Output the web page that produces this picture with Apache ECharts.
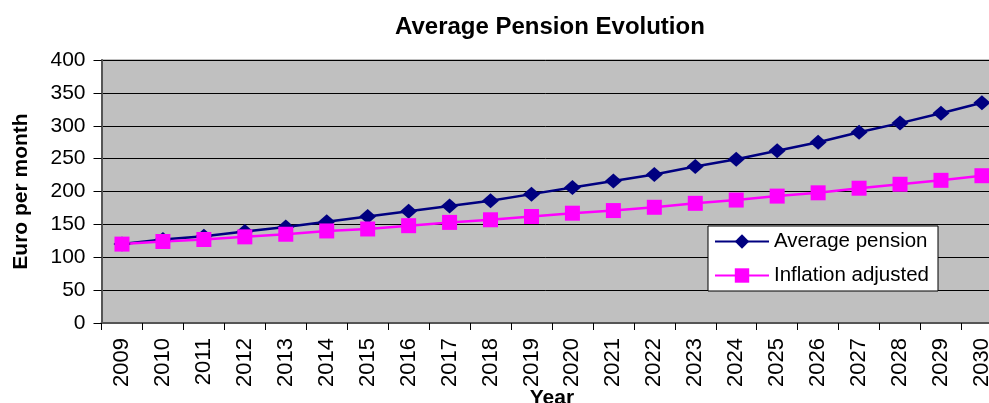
<!DOCTYPE html>
<html>
<head>
<meta charset="utf-8">
<script src="https://cdn.jsdelivr.net/npm/echarts@6/dist/echarts.min.js"></script>
<style>
  html, body { margin: 0; padding: 0; background: #fff; }
  #chart { width: 989px; height: 403px; }
</style>
</head>
<body>
<div id="chart"></div>
<script>
// Years on the x axis
const years = ['2009', '2010', '2011', '2012', '2013', '2014', '2015', '2016', '2017', '2018', '2019',
  '2020', '2021', '2022', '2023', '2024', '2025', '2026', '2027', '2028', '2029', '2030'];

// Values (Euro per month)
const averagePension = [120, 127, 132, 139, 146, 154, 162, 170, 178, 186, 196,
  206, 216, 226, 238, 249, 262, 275, 290, 304, 319, 335];
const inflationAdjusted = [120, 124, 127, 131, 135, 140, 143, 148, 153, 157, 162,
  167, 171, 176, 182, 187, 193, 198, 205, 211, 217, 224];

const font = '"Liberation Sans", Arial, sans-serif';

const myChart = echarts.init(document.getElementById('chart'));

let option = {
  backgroundColor: '#fff',
  animation: false,
  title: {
    text: 'Average Pension Evolution',
    left: 390,
    top: 10,
    textStyle: { fontFamily: font, fontSize: 24, fontWeight: 'bold', color: '#000' }
  },
  grid: {
    left: 101.5,
    top: 60,
    bottom: 80,
    right: -13.4,
    outerBoundsMode: 'none', // plot runs past the right edge, like the original
    containLabel: false,
    show: true,
    backgroundColor: '#c0c0c0',
    borderColor: '#808080',
    borderWidth: 1
  },
  legend: {
    orient: 'vertical',
    left: 708,
    top: 226,
    padding: [5, 9, 5, 6],
    itemGap: 13,
    itemWidth: 54,
    itemHeight: 18,
    backgroundColor: '#fff',
    borderColor: '#000',
    borderWidth: 1,
    borderRadius: 0,
    textStyle: { fontFamily: font, fontSize: 20.5, color: '#000', lineHeight: 20 },
    data: ['Average pension', 'Inflation adjusted']
  },
  xAxis: {
    type: 'category',
    data: years,
    boundaryGap: true,
    name: 'Year',
    nameLocation: 'middle',
    nameGap: 65,
    nameMoveOverlap: false, // the original lets the name sit over the labels
    nameTextStyle: { fontFamily: font, fontSize: 21, fontWeight: 'bold', color: '#000' },
    axisLine: { lineStyle: { color: '#555', width: 2 } },
    axisTick: { show: true, alignWithLabel: false, length: 7, lineStyle: { color: '#000' } },
    axisLabel: {
      rotate: 90,
      margin: 15,
      interval: 0,
      fontFamily: font,
      fontSize: 22,
      color: '#000'
    },
    splitLine: { show: false }
  },
  yAxis: {
    type: 'value',
    min: 0,
    max: 400,
    interval: 50,
    name: 'Euro per month',
    nameLocation: 'middle',
    nameGap: 70,
    nameMoveOverlap: false,
    nameTextStyle: { fontFamily: font, fontSize: 21, fontWeight: 'bold', color: '#000' },
    axisLine: { show: true, lineStyle: { color: '#555', width: 2 } },
    axisTick: { show: true, length: 8, lineStyle: { color: '#000' } },
    axisLabel: { margin: 16, fontFamily: font, fontSize: 21, color: '#000' },
    splitLine: { show: true, lineStyle: { color: '#000', width: 1 } }
  },
  series: [
    {
      name: 'Average pension',
      type: 'line',
      data: averagePension,
      symbol: 'diamond',
      symbolSize: [17, 15],
      lineStyle: { color: '#000080', width: 2.5 },
      itemStyle: { color: '#000080' }
    },
    {
      name: 'Inflation adjusted',
      type: 'line',
      data: inflationAdjusted,
      symbol: 'rect',
      symbolSize: 15,
      lineStyle: { color: '#ff00ff', width: 2.5 },
      itemStyle: { color: '#ff00ff' }
    }
  ]
};

myChart.setOption(option);
</script>
</body>
</html>
